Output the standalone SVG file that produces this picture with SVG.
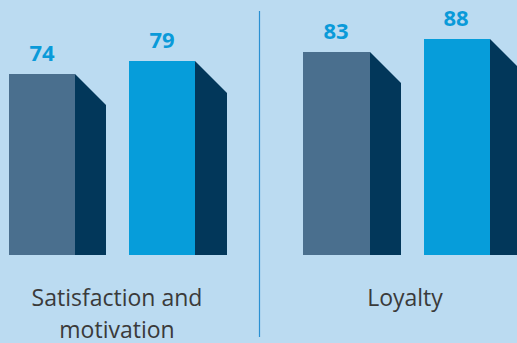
<svg xmlns="http://www.w3.org/2000/svg" width="517" height="343" viewBox="0 0 517 343">
<style>
.bg{fill:#bbdbf1}
.f1{fill:#4a6f8e}
.f2{fill:#069dda}
.sd{fill:#02375a}
.val{font-family:"Open Sans","Noto Sans",sans-serif;font-weight:bold;font-size:22px;fill:#0a9ad9;text-anchor:middle}
.lab{font-family:"Open Sans","Noto Sans",sans-serif;font-size:23px;fill:#3a3a3a;text-anchor:middle}
</style>
<rect class="bg" x="0" y="0" width="517" height="343"/>
<g id="connectors">
<line x1="259.5" y1="11" x2="259.5" y2="337" stroke="#2a90d2" stroke-width="1.2"/>
</g>
<g id="bar-74">
<rect class="f1" x="9" y="74" width="66" height="181"/>
<polygon class="sd" points="75,74 106,105 106,255 75,255"/>
<text class="val" x="42" y="61">74</text>
</g>
<g id="bar-79">
<rect class="f2" x="129" y="61" width="66" height="194"/>
<polygon class="sd" points="195,61 227,93 227,255 195,255"/>
<text class="val" x="162" y="48">79</text>
</g>
<g id="bar-83">
<rect class="f1" x="303" y="52" width="67" height="203"/>
<polygon class="sd" points="370,52 401,83 401,255 370,255"/>
<text class="val" x="336" y="39">83</text>
</g>
<g id="bar-88">
<rect class="f2" x="424" y="39" width="66" height="216"/>
<polygon class="sd" points="490,39 522,71 522,255 490,255"/>
<text class="val" x="456" y="26">88</text>
</g>
<g id="label-satisfaction">
<text class="lab" x="117" y="306">Satisfaction and</text>
<text class="lab" x="117" y="338">motivation</text>
</g>
<g id="label-loyalty">
<text class="lab" x="405" y="306">Loyalty</text>
</g>
</svg>
